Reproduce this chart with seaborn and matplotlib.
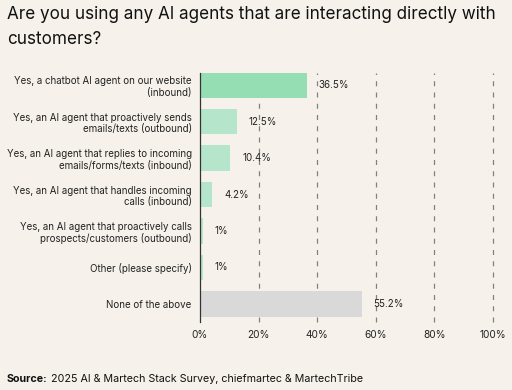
import matplotlib
matplotlib.use('Agg')
import matplotlib.pyplot as plt
import seaborn as sns
import pandas as pd

categories = [
    'Yes, a chatbot AI agent on our website\n(inbound)',
    'Yes, an AI agent that proactively sends\nemails/texts (outbound)',
    'Yes, an AI agent that replies to incoming\nemails/forms/texts (inbound)',
    'Yes, an AI agent that handles incoming\ncalls (inbound)',
    'Yes, an AI agent that proactively calls\nprospects/customers (outbound)',
    'Other (please specify)',
    'None of the above',
]
values = [36.5, 12.5, 10.4, 4.2, 1, 1, 55.2]
value_labels = ['36.5%', '12.5%', '10.4%', '4.2%', '1%', '1%', '55.2%']
bar_colors = ['#95deb4', '#b5e6cb', '#b5e6cb', '#b5e6cb', '#b5e6cb', '#b5e6cb', '#d9d9d9']
x_ticks = [0, 20, 40, 60, 80, 100]

bg = '#f6f2eb'
sns.set_style('white')
plt.rcParams['font.family'] = ['Inter', 'DejaVu Sans']

df = pd.DataFrame({'cat': categories, 'val': values})

fig = plt.figure(figsize=(5.12, 3.9), dpi=100, facecolor=bg)
ax = fig.add_axes([0.3906, 0.174, 0.572, 0.654])
ax.set_facecolor(bg)

# dashed vertical grid (100% line sits on the right edge)
for x in x_ticks[1:]:
    ax.plot([x, x], [6.5, -0.35], color='#808080', lw=0.9, ls=(0, (4, 5)),
            zorder=0, clip_on=False)

sns.barplot(data=df, x='val', y='cat', hue='cat', palette=bar_colors,
            legend=False, width=0.7, ax=ax, zorder=2, saturation=1, linewidth=0)

for i, (v, lab) in enumerate(zip(values, value_labels)):
    ax.text(v + 4.0, i, lab, va='center', ha='left', fontsize=7.0, color='#222222')

ax.set_xlim(0, 100)
ax.set_ylim(6.5, -0.5)
ax.set_xticks(x_ticks)
ax.set_xticklabels([f'{t}%' for t in x_ticks], fontsize=7.3, color='#222222')
ax.tick_params(axis='both', length=0)
ax.tick_params(axis='y', pad=6, labelsize=7.0, labelcolor='#222222')
ax.tick_params(axis='x', pad=6)
for lbl in ax.get_yticklabels():
    lbl.set_horizontalalignment('right')
    lbl.set_multialignment('right')
ax.set_xlabel('')
ax.set_ylabel('')
for s in ['top', 'right', 'bottom']:
    ax.spines[s].set_visible(False)
ax.spines['left'].set_color('#333333')
ax.spines['left'].set_linewidth(0.9)
ax.spines['left'].set_bounds(-0.35, 6.5)

fig.text(7 / 512, 1 - 6 / 390,
         'Are you using any AI agents that are interacting directly with\ncustomers?',
         fontsize=12.3, va='top', ha='left', color='#111111', linespacing=1.65)

t1 = fig.text(7 / 512, 1 - 382 / 390, 'Source:', fontsize=7.7, fontweight='bold',
              va='baseline', ha='left', color='#111111')
fig.canvas.draw()
bb = t1.get_window_extent()
fig.text(bb.x1 / fig.bbox.width, 1 - 382 / 390,
         ' 2025 AI & Martech Stack Survey, chiefmartec & MartechTribe',
         fontsize=7.7, va='baseline', ha='left', color='#111111')

fig.savefig('out.png', dpi=100, facecolor=bg)
